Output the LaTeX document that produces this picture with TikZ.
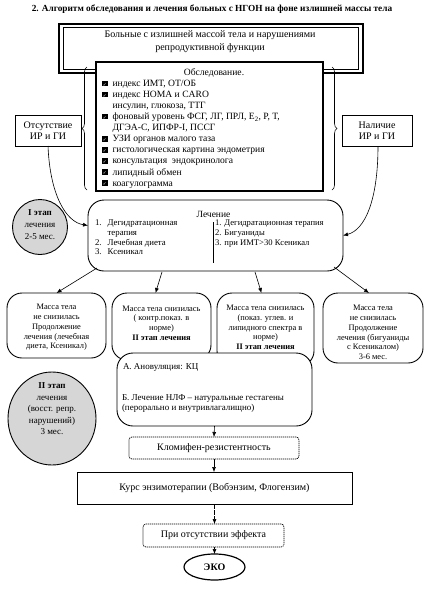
\documentclass[tikz,border=0pt]{standalone}
\usepackage{fontspec}
\setmainfont{Liberation Serif}
\newfontfamily\dejavu{DejaVu Sans}
\usetikzlibrary{arrows.meta,decorations.pathreplacing,calc,shapes.geometric}
\definecolor{circgray}{HTML}{D6D6D6}
\newcommand\chkbox{\raisebox{0.2pt}{\rule{5.5pt}{5.5pt}\hspace{-5.5pt}\makebox[5.5pt]{\color{white}\fontsize{4.5}{5}\selectfont\dejavu ✓}}}
\newcommand\fs[2]{\fontsize{#1}{#2}\selectfont}
\begin{document}
\begin{tikzpicture}[x=1pt,y=-1pt,
  every node/.style={inner sep=0pt, outer sep=0pt},
  arr/.style={-{Latex[length=5pt,width=4pt]}, line width=0.6pt},
  rbox/.style={draw, line width=0.9pt, rounded corners=15pt, fill=white},
  sqbox/.style={draw, line width=0.9pt, fill=white},
  dotbox/.style={draw, line width=0.7pt, dash pattern=on 1.2pt off 0.8pt, rounded corners=3pt, fill=white},
  stagecirc/.style={draw, line width=0.9pt, fill=circgray, ellipse},
  txt/.style={align=center}
]
\useasboundingbox (0,0) rectangle (428,592);

% title
\node[font=\bfseries\fs{9.3}{10}] (title) at (212,9) {2. Алгоритм обследования и лечения больных с НГОН на фоне излишней массы тела};

% top double box
\node[draw, line width=2pt, minimum width=304, minimum height=49] (top) at (211.3,48.7) {};
\node[draw, line width=0.8pt, minimum width=295, minimum height=42] (topin) at (top.center) {};
\node[txt, font=\fs{10}{13}] (toptxt) at (210,41.5) {Больные с излишней массой тела и нарушениями\\репродуктивной функции};

% examination box
\node[sqbox, line width=1.3pt, minimum width=227, minimum height=129] (exam) at (209.5,126.5) {};
\node[font=\fs{9.6}{11}] (examtitle) at (214,73) {Обследование.};
\node[anchor=north west, font=\fs{9.6}{11.1}] (list) at (102,78.5) {%
\begin{tabular}{@{}l@{\hspace{5pt}}l@{}}
\chkbox & индекс ИМТ, ОТ/ОБ\\
\chkbox & индекс HOMA и CARO\\
 & инсулин, глюкоза, ТТГ\\
\chkbox & фоновый уровень ФСГ, ЛГ, ПРЛ, Е\textsubscript{2}, Р, Т,\\
 & ДГЭА-С, ИПФР-I, ПССГ\\
\chkbox & УЗИ органов малого таза\\
\chkbox & гистологическая картина эндометрия\\
\chkbox & консультация \ эндокринолога\\
\chkbox & липидный обмен\\
\chkbox & коагулограмма
\end{tabular}};

% braces
\draw[line width=0.6pt, decorate, decoration={brace, amplitude=5pt}] (87,190) -- (87,67);
\draw[line width=0.6pt, decorate, decoration={brace, amplitude=5pt}] (332,67) -- (332,190);

% side boxes
\node[sqbox, minimum width=66, minimum height=31, txt, font=\fs{10}{11.5}] (absent) at (48,130.5) {Отсутствие\\ИР и ГИ};
\node[sqbox, minimum width=70, minimum height=31, txt, font=\fs{10}{11.5}] (present) at (377,130.5) {Наличие\\ИР и ГИ};

% stage I circle
\node[stagecirc, minimum width=55, minimum height=55] (st1) at (40,227) {};
\node[txt, font=\fs{9}{12}] (st1txt) at (40,225) {\textbf{I этап}\\лечения\\2-5 мес.};

% treatment box
\node[rbox, minimum width=255, minimum height=71, rounded corners=16pt] (lech) at (215.5,235.5) {};
\node[font=\fs{9.5}{11}] (lechtitle) at (213.5,214) {Лечение};
\node[anchor=north west, font=\fs{8.8}{9.7}] (lechL) at (95,219) {%
\begin{tabular}{@{}l@{\hspace{6pt}}l@{}}
1. & Дегидратационная\\
 & терапия\\
2. & Лечебная диета\\
3. & Ксеникал
\end{tabular}};
\node[anchor=north west, font=\fs{8.6}{9.7}] (lechR) at (215,219) {%
\begin{tabular}{@{}l@{\hspace{3pt}}l@{}}
1. & Дегидратационная терапия\\
2. & Бигуаниды\\
3. & при ИМТ>30 Ксеникал
\end{tabular}};
\draw[line width=0.8pt] ($(lech.center)+(-2.5,-13.5)$) -- ($(lech.center)+(-2.5,27.5)$);

% curved connectors
\draw[arr] (absent.south) .. controls (50,195) and (66,222) .. ($(lech.west)+(0,-10)$);
\draw[arr] ($(present.south)+(1,0)$) .. controls (378,200) and (365,230) .. (lech.east);

% result boxes
\node[rbox, minimum width=99, minimum height=65] (b1) at (56.5,325.5) {};
\node[txt, font=\fs{8.4}{9.7}] (b1txt) at (56.5,327.5) {Масса тела\\не снизилась\\Продолжение\\лечения (лечебная\\диета, Ксеникал)};
\node[rbox, minimum width=99, minimum height=67] (b2) at (161.5,326.5) {};
\node[txt, font=\fs{8.4}{9.7}] (b2txt) at (161.5,323) {Масса тела снизилась\\( контр.показ. в\\норме)\\\textbf{II этап лечения}};
\node[rbox, minimum width=97, minimum height=73] (b3) at (265.5,329.5) {};
\node[txt, font=\fs{8.4}{9.7}] (b3txt) at (265.5,327.5) {Масса тела снизилась\\(показ. углев. и\\липидного спектра в\\норме)\\\textbf{II этап лечения}};
\node[rbox, minimum width=100, minimum height=70] (b4) at (373,328) {};
\node[txt, font=\fs{8.4}{9.8}] (b4txt) at (373,332.5) {Масса тела\\не снизилась\\Продолжение\\лечения (бигуаниды\\с Ксеникалом)\\3-6 мес.};

\draw[arr] ($(lech.south west)+(9,-3)$) -- (b1.north);
\draw[arr] ($(lech.south west)+(74,1)$) -- ($(b2.north)+(-6,0)$);
\draw[arr] ($(lech.south west)+(167,1)$) -- ($(b3.north)+(-4,0)$);
\draw[arr] ($(lech.south east)+(-9,-4)$) -- ($(b4.north)+(-4,0)$);

% A/B box
\node[rbox, minimum width=195, minimum height=73, rounded corners=16pt] (ab) at (214.5,389.5) {};
\node[anchor=west, font=\fs{9}{10}] (abA) at (123,367) {А. Ановуляция: КЦ};
\node[anchor=north west, align=left, font=\fs{9}{10.5}] (abB) at (122,394.5) {Б. Лечение НЛФ – натуральные гестагены\\(перорально и внутривлагалищно)};

% stage II circle
\node[stagecirc, minimum width=88, minimum height=93] (st2) at (52,418.5) {};
\node[txt, font=\fs{9}{11.5}] (st2txt) at (52,409) {\textbf{II этап}\\лечения\\(восст. репр.\\нарушений)\\3 мес.};

% lower chain
\node[dotbox, minimum width=170, minimum height=22, font=\fs{10}{11}] (klom) at (214,448) {Кломифен-резистентность};
\node[sqbox, minimum width=275, minimum height=32, font=\fs{10}{11}] (kurs) at (214.5,488) {Курс энзимотерапии (Вобэнзим, Флогензим)};
\node[dotbox, minimum width=141, minimum height=23, font=\fs{10}{11}] (pri) at (213.5,535.5) {При отсутствии эффекта};
\node[draw, ellipse, line width=1.2pt, minimum width=61, minimum height=26, font=\bfseries\fs{10}{11}] (eko) at (214.5,567) {ЭКО};

\draw[arr] (ab.south) -- (klom.north);
\draw[arr] (klom.north |- klom.south) -- (kurs.north -| klom.south);
\draw[arr, dash pattern=on 5pt off 1.2pt] (kurs.south) -- (pri.north -| kurs.south);
\draw[arr] (pri.south -| eko.north) -- (eko.north);
\end{tikzpicture}
\end{document}
